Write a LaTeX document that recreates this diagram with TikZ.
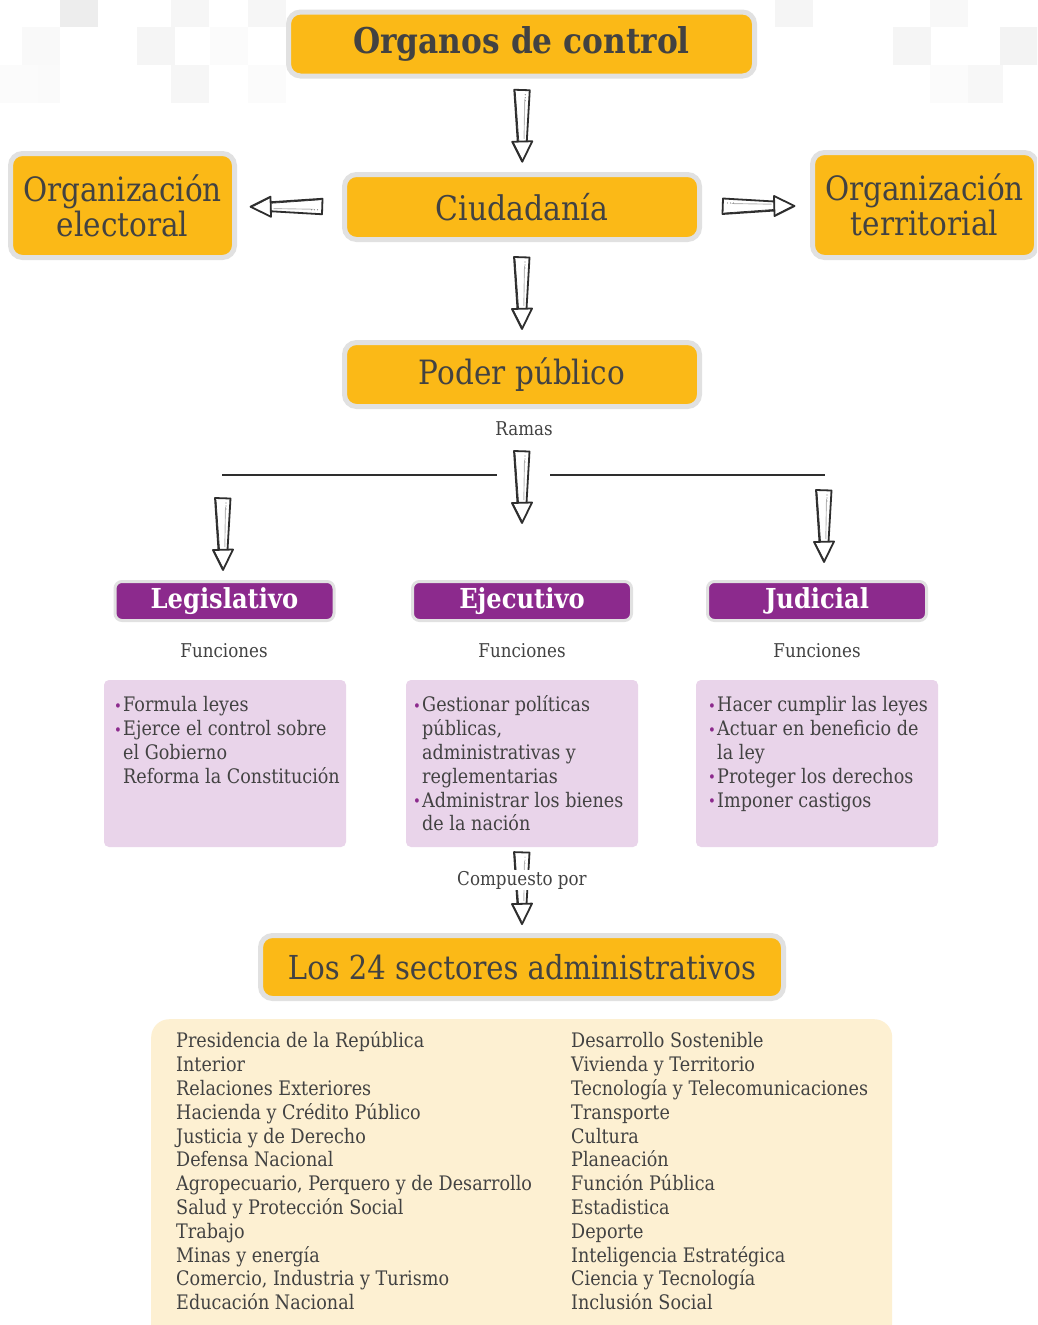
\documentclass[tikz,border=0pt]{standalone}
\usepackage{fontspec}
\setmainfont{DejaVu Serif}[FakeStretch=0.88]
\usetikzlibrary{calc}
\definecolor{boxorange}{HTML}{FBB917}
\definecolor{boxgrey}{HTML}{E1E1E1}
\definecolor{purp}{HTML}{8C2A8D}
\definecolor{lilacc}{HTML}{E9D4EA}
\definecolor{cream}{HTML}{FDF0D2}
\definecolor{txt}{HTML}{424242}
\definecolor{ink}{HTML}{2E2E2E}
\newcommand\bul{\makebox[9pt][l]{\textcolor{purp}{\fontsize{15}{15}\selectfont\raisebox{0.5pt}{•}}}}
\newcommand\nob{\hspace*{9pt}}
\tikzset{
  orangebox/.style={draw=boxgrey, line width=5pt, fill=boxorange, rounded corners=12pt, text=txt, align=center, inner sep=0pt},
  purplebox/.style={draw=boxgrey, line width=3pt, fill=purp, rounded corners=7pt, text=white, inner sep=0pt, minimum width=219pt, minimum height=39pt, font=\fontsize{27.5}{29}\selectfont\bfseries},
  lilacbox/.style={fill=lilacc, rounded corners=5pt, minimum height=167pt, inner sep=0pt},
  listtext/.style={anchor=north west, align=left, inner sep=0pt, text=txt, font=\fontsize{20}{23.8}\selectfont},
  smalllabel/.style={text=txt, inner sep=1pt, font=\fontsize{19}{22}\selectfont},
  hline/.style={draw=ink, line width=1.8pt},
  arrowline/.style={draw=ink, line width=1.8pt, line join=round},
  sarrow/.pic={
    \draw[arrowline, fill=white] (-8,-36) -- (7.5,-35.5) -- (4.5,16) -- (-4.5,16.5) -- cycle;
    \draw[ink, line width=0.7pt] (-7,-34) -- (-3.5,15);
    \draw[gray!55, line width=0.9pt] (2.5,-27) -- (1.8,13);
    \fill[gray] (3,-31) circle (0.6) (3,-28) circle (0.6) (3,-25) circle (0.6);
    \draw[arrowline, fill=white] (-10,16) -- (10,15.5) -- (0,36) -- cycle;
    \draw[ink, line width=0.7pt] (-8.5,17.5) -- (-0.5,33);
  }
}
\begin{document}
\begin{tikzpicture}[x=1pt,y=-1pt]
\useasboundingbox (0,0) rectangle (1037,1325);
\clip (0,0) rectangle (1037,1325);
\fill[white] (0,0) rectangle (1037,1325);
% background squares
\foreach \x/\y/\c in {60/-11/EDEDED, 137/27/F5F5F5, 171/-11/F6F6F6, 171/65/F6F6F6, 210/27/FBFBFB, 248/-11/F6F6F6, 248/65/FBFBFB, 22/27/F9F9F9, 22/65/FAFAFA, 0/65/FBFBFB,
  775/-11/F5F5F5, 893/27/F5F5F5, 930/-11/F8F8F8, 965/65/F7F7F7, 1000/27/F3F3F3, 930/65/FBFBFB}{
  \definecolor{sq}{HTML}{\c}
  \fill[sq] (\x,\y) rectangle ++(38,38);
}
% cream box
\node[fill=cream, rounded corners=18pt, minimum width=741pt, minimum height=340pt, inner sep=0pt, anchor=north west] (list) at (151,1019) {};
% main boxes
\node[orangebox, minimum width=466pt, minimum height=64pt, font=\fontsize{35.5}{38}\selectfont\bfseries] (org) at (521.5,44) {Organos de control};
\node[orangebox, minimum width=355pt, minimum height=65pt, font=\fontsize{34}{38}\selectfont] (ciud) at (522,207) {Ciudadanía};
\node[orangebox, minimum width=224pt, minimum height=104pt, font=\fontsize{33.5}{35}\selectfont] (elec) at (122.5,205.5) {Organización\\electoral};
\node[orangebox, minimum width=224pt, minimum height=105pt, font=\fontsize{33.5}{35}\selectfont] (terr) at (924.5,205) {Organización\\territorial};
\node[orangebox, minimum width=355pt, minimum height=64pt, font=\fontsize{33.5}{36}\selectfont] (poder) at (522,374.5) {Poder público};
\node[smalllabel] (ramas) at (524,429) {Ramas};
% branch lines
\coordinate (lineL1) at (222,475);
\coordinate (lineL2) at (497,475);
\coordinate (lineR1) at (550,475);
\coordinate (lineR2) at (825,475);
\draw[hline] (lineL1) -- (lineL2);
\draw[hline] (lineR1) -- (lineR2);
% purple boxes
\node[purplebox] (leg) at (224.5,601) {Legislativo};
\node[purplebox] (eje) at (522,601) {Ejecutivo};
\node[purplebox] (jud) at (817,601) {Judicial};
\node[smalllabel] (fleg) at (224,651) {Funciones};
\node[smalllabel] (feje) at (522,651) {Funciones};
\node[smalllabel] (fjud) at (817,651) {Funciones};
% lilac boxes
\node[lilacbox, minimum width=242pt] (legbox) at (225,763.5) {};
\node[lilacbox, minimum width=232pt] (ejebox) at (522,763.5) {};
\node[lilacbox, minimum width=242pt] (judbox) at (817,763.5) {};
\node[listtext] (legtext) at (114,695) {\strut\bul Formula leyes\\\bul Ejerce el control sobre\\\nob el Gobierno\\\nob Reforma la Constitución};
\node[listtext] (ejetext) at (413,695) {\strut\bul Gestionar políticas\\\nob públicas,\\\nob administrativas y\\\nob reglementarias\\\bul Administrar los bienes\\\nob de la nación};
\node[listtext] (judtext) at (708,695) {\strut\bul Hacer cumplir las leyes\\\bul Actuar en beneficio de\\\nob la ley\\\bul Proteger los derechos\\\bul Imponer castigos};
% sectors
\node[orangebox, minimum width=523pt, minimum height=63pt, font=\fontsize{33}{36}\selectfont] (sect) at (522,967) {Los 24 sectores administrativos};
\node[listtext] (colA) at (176,1031) {\strut Presidencia de la República\\Interior\\Relaciones Exteriores\\Hacienda y Crédito Público\\Justicia y de Derecho\\Defensa Nacional\\Agropecuario, Perquero y de Desarrollo\\Salud y Protección Social\\Trabajo\\Minas y energía\\Comercio, Industria y Turismo\\Educación Nacional};
\node[listtext] (colB) at (571,1031) {\strut Desarrollo Sostenible\\Vivienda y Territorio\\Tecnología y Telecomunicaciones\\Transporte\\Cultura\\Planeación\\Función Pública\\Estadistica\\Deporte\\Inteligencia Estratégica\\Ciencia y Tecnología\\Inclusión Social};
% arrows
\pic at ($(org.south)!0.5!(ciud.north)+(0.5,0.5)$) {sarrow};
\pic at ($(ciud.south)!0.5!(poder.north)+(0,2)$) {sarrow};
\pic[rotate=-90] at ($(elec.east)!0.5!(ciud.west)+(-3,0.5)$) {sarrow};
\pic[rotate=90] at ($(ciud.east)!0.5!(terr.west)+(2.5,0)$) {sarrow};
\pic at ($(poder.south)+(0,78)$) {sarrow};
\pic at ($(leg.north)+(-1.5,-46)$) {sarrow};
\pic at ($(jud.north)+(7,-54)$) {sarrow};
\pic at ($(ejebox.south)!0.5!(sect.north)+(0,-2)$) {sarrow};
\node[smalllabel, fill=white, inner sep=0.5pt] (comp) at (522,880) {Compuesto por};
\end{tikzpicture}
\end{document}
